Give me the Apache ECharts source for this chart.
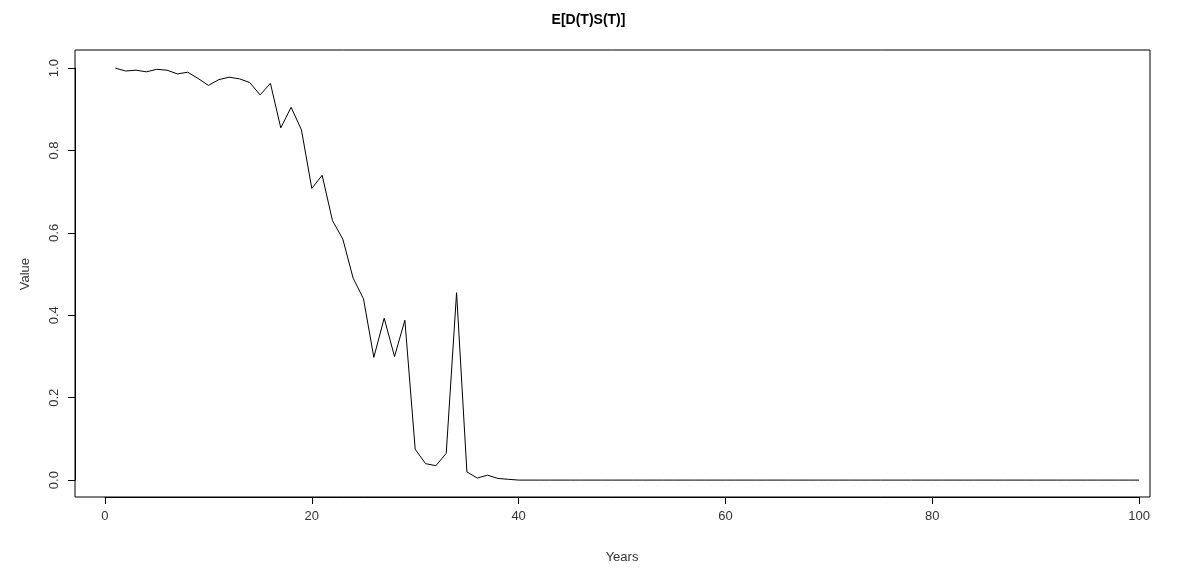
<!DOCTYPE html>
<html><head><meta charset="utf-8">
<script src="https://cdn.jsdelivr.net/npm/echarts@6/dist/echarts.min.js"></script>
<style>html,body{margin:0;background:#fff}#main{width:1177px;height:570px}</style>
</head><body><div id="main"></div>
<script>
var early = [1.0, 0.993, 0.995, 0.991, 0.997, 0.995, 0.986, 0.99, 0.975, 0.958,
  0.972, 0.978, 0.974, 0.965, 0.935, 0.963, 0.855, 0.905, 0.85, 0.708,
  0.74, 0.63, 0.585, 0.49, 0.44, 0.298, 0.393, 0.30, 0.388, 0.075,
  0.04, 0.035, 0.065, 0.455, 0.02, 0.005, 0.012, 0.004, 0.002];
var values = early.concat(new Array(100 - early.length).fill(0));
var points = values.map(function (v, i) { return [i + 1, v]; });

// plot box and padded data range
var L = 75, R = 27, T = 50, B = 73, W = 1177 - L - R, H = 570 - T - B;
var xMin = -2.9, xMax = 101.06, yMin = -0.041, yMax = 1.044;
var dxL = (0 - xMin) / (xMax - xMin) * W, dxR = (xMax - 100) / (xMax - xMin) * W;
var dyB = (0 - yMin) / (yMax - yMin) * H, dyT = (yMax - 1) / (yMax - yMin) * H;

var font = 'Liberation Sans, Arial, sans-serif';
var lbl = { fontFamily: font, fontSize: 13, color: '#333' };
var chart = echarts.init(document.getElementById('main'));
chart.setOption({
  animation: false,
  title: { text: 'E[D(T)S(T)]', left: 'center', top: 8,
    textStyle: { fontFamily: font, fontSize: 14, fontWeight: 'bold', color: '#000' } },
  grid: [
    { left: L, right: R, top: T, bottom: B, show: true, borderColor: '#000', borderWidth: 1,
      containLabel: false, outerBoundsMode: 'none' },
    { left: L + dxL, right: R + dxR, top: T + dyT, bottom: B + dyB,
      containLabel: false, outerBoundsMode: 'none' }
  ],
  xAxis: [
    { gridIndex: 0, type: 'value', min: xMin, max: xMax, show: false },
    { gridIndex: 1, type: 'value', min: 0, max: 100, interval: 20, offset: dyB,
      name: 'Years', nameLocation: 'middle', nameGap: 54, nameTextStyle: lbl,
      axisLine: { onZero: false, lineStyle: { color: '#000' } }, splitLine: { show: false },
      axisTick: { length: 7, lineStyle: { color: '#000' } },
      axisLabel: Object.assign({ margin: 13 }, lbl) }
  ],
  yAxis: [
    { gridIndex: 0, type: 'value', min: yMin, max: yMax, show: false },
    { gridIndex: 1, type: 'value', min: 0, max: 1, interval: 0.2, offset: dxL,
      name: 'Value', nameLocation: 'middle', nameGap: 43, nameTextStyle: lbl,
      axisLine: { onZero: false, lineStyle: { color: '#000' } }, splitLine: { show: false },
      axisTick: { length: 7, lineStyle: { color: '#000' } },
      axisLabel: Object.assign({ rotate: 90, margin: 14,
        formatter: function (v) { return v.toFixed(1); } }, lbl) }
  ],
  series: [{
    type: 'line', xAxisIndex: 0, yAxisIndex: 0, data: points, showSymbol: false,
    lineStyle: { color: '#000', width: 1 }
  }]
});
</script></body></html>
